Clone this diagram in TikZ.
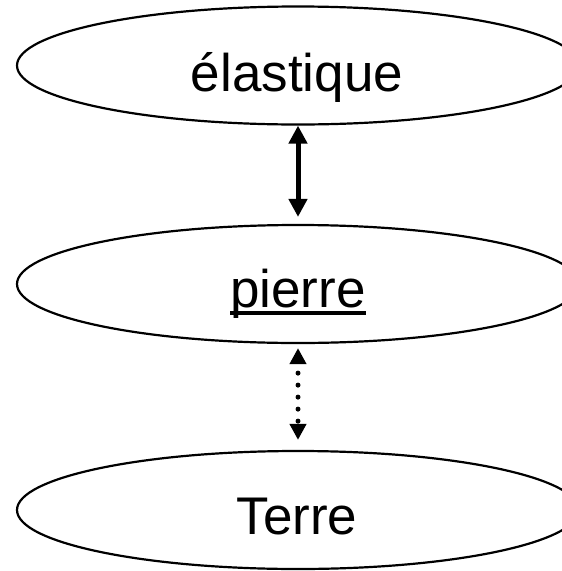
\documentclass[tikz,border=0pt]{standalone}
\usepackage{fontspec}
\setmainfont{Liberation Sans}
\usetikzlibrary{shapes.geometric,arrows.meta}
\begin{document}
\begin{tikzpicture}[x=1pt,y=-1pt,
  bubble/.style={draw=black,line width=2.2pt,ellipse,minimum width=562pt,minimum height=118pt,inner sep=0pt},
  word/.style={inner sep=0pt,anchor=base,font=\fontsize{53}{60}\selectfont},
]
\useasboundingbox (0,0) rectangle (562,571);
\node[bubble] (e) at (298,65.5) {};
\node[bubble] (p) at (298,284) {};
\node[bubble] (t) at (298,510) {};
\node[word] (et) at (297,91) {élastique};
\node[word] (pt) at (298,307) {pierre};
\node[word] (tt) at (297,534) {Terre};
\draw[line width=3.5pt] ([yshift=-6pt]pt.base west) -- ([yshift=-6pt]pt.base east);
\draw[line width=5pt,{Triangle[width=18pt,length=18pt]}-{Triangle[width=18pt,length=18pt]},shorten >=7pt] (e.south) -- (p.north);
\draw[line width=5pt,line cap=round,dash pattern=on 0pt off 12pt,dash phase=2pt,
  {Triangle[width=16pt,length=16pt]}-{Triangle[width=16pt,length=16pt]},shorten <=4pt,shorten >=10pt] (p.south) -- (t.north);
\end{tikzpicture}
\end{document}
